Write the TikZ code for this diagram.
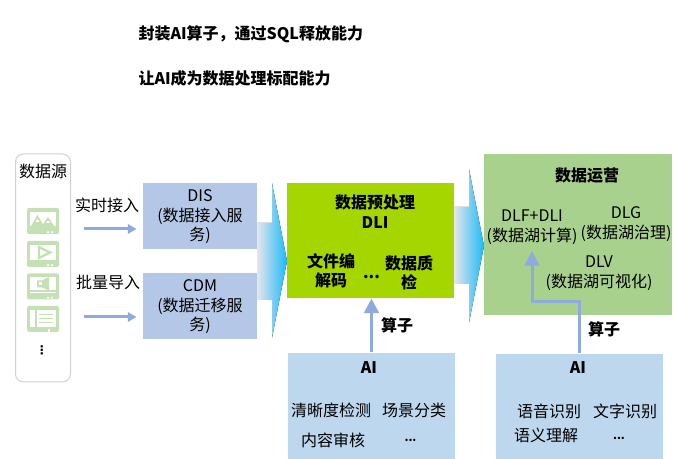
\documentclass[tikz,border=0pt]{standalone}
\usepackage{fontspec}
\setmainfont{Noto Sans CJK SC}
\newfontfamily\symfont{DejaVu Sans}
\usetikzlibrary{arrows.meta}
\definecolor{flowBlue}{HTML}{8FAADC}
\definecolor{inBlue}{HTML}{B4C7E7}
\definecolor{aiBlue}{HTML}{BDD7EE}
\definecolor{dliGreen}{HTML}{A5D600}
\definecolor{opsGreen}{HTML}{A9D18E}
\definecolor{iconGreen}{HTML}{C5E0B4}
\definecolor{blockPale}{HTML}{E6E6EC}
\definecolor{blockMid}{HTML}{A4DFF6}
\definecolor{blockCyan}{HTML}{1CB9F8}
\tikzset{
  every picture/.style={line width=0.75pt},
  every node/.style={font=\fontsize{12}{14.7}\selectfont,inner sep=0pt,align=center},
  headtxt/.style={font=\fontsize{12}{14.7}\selectfont\bfseries},
  dotstxt/.style={font=\fontsize{8.5}{10}\selectfont\bfseries},
  flowline/.style={draw=flowBlue,line width=2.25pt},
  smallflow/.style={flowline,-{Triangle[width=7pt,length=6.5pt]}},
  bigflow/.style={flowline,-{Triangle[width=11pt,length=11pt]}},
  blockarrow/.style={left color=blockPale,middle color=blockMid,right color=blockCyan,draw=none},
  iconbase/.style={fill=iconGreen,rounded corners=1.5pt},
}
\begin{document}
\begin{tikzpicture}[x=0.75pt,y=0.75pt,yscale=-1,xscale=1]
\useasboundingbox (0,0) rectangle (683,459);

% Titles
\node[headtxt,anchor=west] (titleA) at (138,34) {封装AI算子，通过SQL释放能力};
\node[headtxt,anchor=west] (titleB) at (138,78.5) {让AI成为数据处理标配能力};

% Block arrows
\fill[blockarrow] (257,223) -- (272,223) -- (272,183) -- (287,261) -- (272,338) -- (272,300) -- (257,300) -- cycle;
\fill[blockarrow] (454,207) -- (469,207) -- (469,169) -- (484,246) -- (469,323) -- (469,284) -- (454,284) -- cycle;

% Boxes
\node[draw=black!18,rounded corners=6pt,minimum width=41.25pt,minimum height=171pt] (source) at (43,268) {};
\node[fill=inBlue,minimum width=85.5pt,minimum height=49.5pt] (dis) at (200,216) {};
\node[fill=inBlue,minimum width=85.5pt,minimum height=49.5pt] (cdm) at (200,306) {};
\node (disTxt) at (200,217) {DIS\\(数据接入服\\务)};
\node (cdmTxt) at (200,307) {CDM\\(数据迁移服\\务)};
\node[fill=dliGreen,minimum width=125.25pt,minimum height=86.25pt] (dli) at (370.5,240.5) {};
\node[fill=opsGreen,minimum width=141pt,minimum height=120.75pt] (ops) at (578,234.5) {};
\node[fill=aiBlue,minimum width=125.25pt,minimum height=79.5pt] (aiLeft) at (371.5,406) {};
\node[fill=aiBlue,minimum width=125.25pt,minimum height=78.75pt] (aiRight) at (579.5,406.5) {};

% Data source
\node (sourceTxt) at (43,171.5) {数据源};
\foreach \ty in {208,241,273.5,306}
  \fill[iconbase] (27,\ty) rectangle ++(32,26);
\begin{scope}[shift={(27,208)}]
\fill[white] (3,4) rectangle (29,18);
\fill[iconGreen] (4,18) -- (10.5,7) -- (17,18) -- cycle;
\fill[iconGreen] (15,18) -- (21,9) -- (27,18) -- cycle;
\fill[white] (8.5,14) -- (10.5,11) -- (12.5,14) -- cycle;
\fill[white] (19,15) -- (21,12.5) -- (23,15) -- cycle;
\fill[white] (20,23.5) rectangle (22,25) (24,23.5) rectangle (26,25);
\end{scope}
\begin{scope}[shift={(27,241)}]
\fill[white] (3,4) rectangle (29,19);
\draw[iconGreen,line width=1.8pt] (12,6) -- (23,11.5) -- (12,17) -- cycle;
\fill[white] (20,23.5) rectangle (22,25) (24,23.5) rectangle (26,25);
\end{scope}
\begin{scope}[shift={(27,273.5)}]
\fill[white] (3,4) rectangle (29,17);
\fill[white] (3,19) rectangle (29,20);
\fill[iconGreen] (10,7) rectangle (15,14) (15,7) -- (22,3.5) -- (22,17) -- (15,14) -- cycle;
\fill[white] (12,9) rectangle (15,12);
\fill[white] (20,23.5) rectangle (22,25) (24,23.5) rectangle (26,25);
\end{scope}
\begin{scope}[shift={(27,306)}]
\fill[white] (3,4) rectangle (8,21);
\fill[white] (10,4) rectangle (29,21);
\foreach \ly in {8,12,16}
  \fill[iconGreen] (12,\ly) rectangle (26,\ly+1);
\fill[white] (21,23) rectangle (23,26);
\end{scope}
\node[font=\fontsize{9}{10}\symfont\bfseries] (sourceDots) at (42,350) {⋮};

% Inflow
\node (realTxt) at (107,205) {实时接入};
\node (batchTxt) at (108,282.5) {批量导入};
\coordinate (realY) at (83,229);
\coordinate (batchY) at (83,317);
\draw[smallflow,shorten <=9.4pt,shorten >=4.5pt] (source.east |- realY) -- (dis.west |- realY);
\draw[smallflow,shorten <=9.4pt,shorten >=4.5pt] (source.east |- batchY) -- (cdm.west |- batchY);

% Preprocessing
\node[headtxt] (dliTxt) at (375,211.5) {数据预处理\\DLI};
\node[headtxt] (codecTxt) at (331,271) {文件编\\解码};
\node[headtxt] (dliDots) at (371.5,277) {...};
\node[headtxt] (qualityTxt) at (409,273) {数据质\\检};

% Operations
\node[headtxt] (opsTxt) at (587,175.5) {数据运营};
\node (dlfTxt) at (532,227.5) {DLF+DLI\\(数据湖计算)};
\node (dlgTxt) at (626,224) {DLG\\(数据湖治理)};
\node (dlvTxt) at (599,273.5) {DLV\\(数据湖可视化)};

% AI left
\node[headtxt] (aiLeftTxt) at (369,368) {AI};
\node (clarityTxt) at (331,410) {清晰度检测};
\node (sceneTxt) at (414,410) {场景分类};
\node (auditTxt) at (333,440) {内容审核};
\node[dotstxt] (aiLeftDots) at (410.5,440) {...};
\node[headtxt] (opLeftTxt) at (397,325) {算子};
\draw[bigflow] (aiLeft.north) -- (aiLeft.north |- dli.south);

% AI right
\node[headtxt] (aiRightTxt) at (578,368) {AI};
\node (speechTxt) at (549,411) {语音识别};
\node (charTxt) at (625,411) {文字识别};
\node (meaningTxt) at (546,435) {语义理解};
\node[dotstxt] (aiRightDots) at (619,438) {...};
\node[headtxt] (opRightTxt) at (604,329) {算子};
\coordinate (dlfIn) at (532,251);
\draw[bigflow] (aiRight.north) -- (aiRight.north |- 0,302) -| (dlfIn);

\end{tikzpicture}
\end{document}
